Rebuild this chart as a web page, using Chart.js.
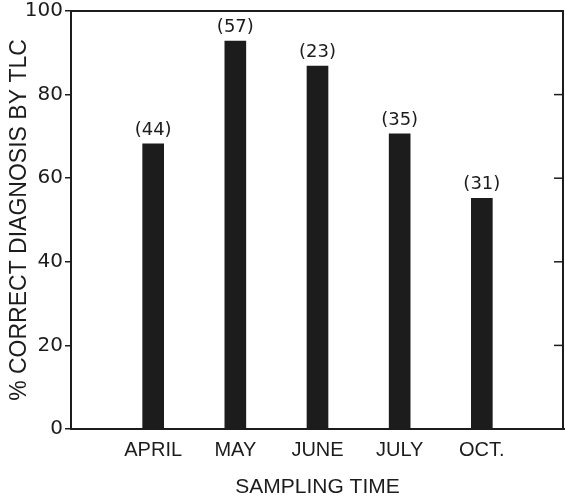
<!DOCTYPE html>
<html>
<head>
<meta charset="utf-8">
<script src="https://cdn.jsdelivr.net/npm/chart.js@4.4.1/dist/chart.umd.min.js"></script>
<style>
  html, body { margin: 0; padding: 0; background: #fff; }
  #wrap { width: 565px; height: 499px; }
</style>
</head>
<body>
<div id="wrap"><canvas id="c" width="565" height="499"></canvas></div>
<script>
const categories = ['APRIL', 'MAY', 'JUNE', 'JULY', 'OCT.'];
const percentCorrect = [68.2, 92.8, 86.8, 70.6, 55.2];
const sampleCounts = ['(44)', '(57)', '(23)', '(35)', '(31)'];
const yTicks = [0, 20, 40, 60, 80, 100];

const labels = [''].concat(categories, ['']);
const data = [null].concat(percentCorrect, [null]);
const counts = [null].concat(sampleCounts, [null]);

const ink = '#1c1c1c';

const frame = {
  id: 'frame',
  afterDraw(chart) {
    const {ctx, chartArea: a, scales: {y}} = chart;
    ctx.save();
    ctx.strokeStyle = ink;
    ctx.lineWidth = 2;
    ctx.beginPath();
    ctx.moveTo(a.left - 1, a.top);
    ctx.lineTo(a.right - 1, a.top);
    ctx.lineTo(a.right - 1, a.bottom);
    ctx.stroke();
    ctx.lineWidth = 1.5;
    yTicks.slice(1, -1).forEach(v => {
      const py = y.getPixelForValue(v);
      ctx.beginPath();
      ctx.moveTo(a.right - 10, py);
      ctx.lineTo(a.right, py);
      ctx.stroke();
    });
    ctx.restore();
  }
};

const barLabels = {
  id: 'barLabels',
  afterDatasetsDraw(chart) {
    const {ctx} = chart;
    const meta = chart.getDatasetMeta(0);
    ctx.save();
    ctx.fillStyle = ink;
    ctx.font = '18px "DejaVu Sans"';
    ctx.textAlign = 'center';
    ctx.textBaseline = 'alphabetic';
    meta.data.forEach((el, i) => {
      if (counts[i] == null) return;
      ctx.fillText(counts[i], el.x, el.y - 9);
    });
    ctx.restore();
  }
};

new Chart(document.getElementById('c'), {
  type: 'bar',
  data: {
    labels: labels,
    datasets: [{
      data: data,
      backgroundColor: ink,
      borderWidth: 0,
      barThickness: 21
    }]
  },
  options: {
    responsive: false,
    animation: false,
    devicePixelRatio: 1,
    layout: { padding: { top: 11, right: 1, left: 0, bottom: 0 } },
    plugins: { legend: { display: false }, tooltip: { enabled: false } },
    scales: {
      x: {
        offset: false,
        grid: { display: true, drawOnChartArea: false, drawTicks: false, color: 'rgba(0,0,0,0)' },
        border: { display: true, color: ink, width: 2 },
        ticks: {
          autoSkip: false, maxRotation: 0, padding: 9, color: ink,
          font: { family: '"Liberation Sans"', size: 20 }
        },
        title: {
          display: true, text: 'SAMPLING TIME', color: ink,
          font: { family: '"Liberation Sans"', size: 21, lineHeight: 1.1 },
          padding: { top: 0, bottom: 0.5 }
        },
        afterFit(scale) { scale.height = 70; scale.paddingLeft = 0; scale.paddingRight = 0; }
      },
      y: {
        min: 0, max: 100,
        afterBuildTicks(scale) { scale.ticks = yTicks.map(v => ({ value: v })); },
        grid: { display: true, drawOnChartArea: false, drawTicks: true, tickLength: 6, color: ink, lineWidth: 1.5 },
        border: { display: true, color: ink, width: 2 },
        ticks: {
          padding: 2, color: ink,
          font: { family: '"DejaVu Sans"', size: 20 }
        },
        title: {
          display: true, text: '% CORRECT DIAGNOSIS BY TLC', color: ink,
          font: { family: '"Liberation Sans"', size: 23 },
          padding: { top: 6, bottom: 0 }
        },
        afterFit(scale) { scale.width = 71; scale.paddingTop = 0; scale.paddingBottom = 0; }
      }
    }
  },
  plugins: [frame, barLabels]
});
</script>
</body>
</html>
